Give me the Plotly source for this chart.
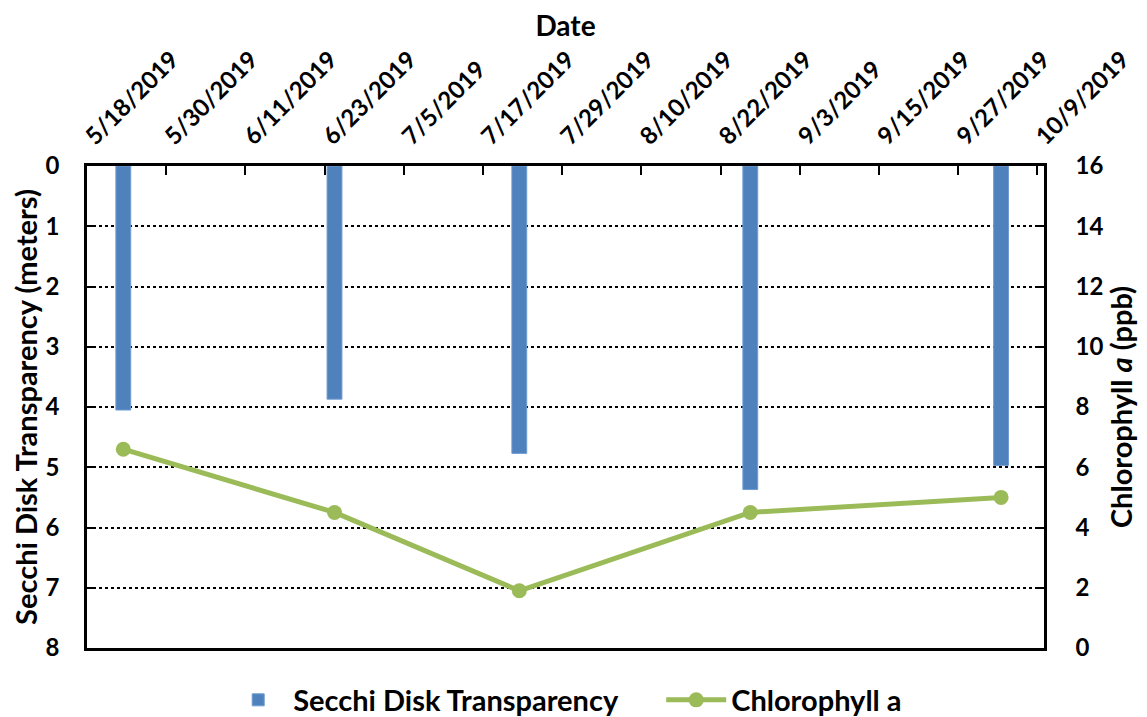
import plotly.graph_objects as go

dates = ["2019-05-23", "2019-06-24", "2019-07-22", "2019-08-26", "2019-10-03"]
secchi_m = [4.05, 3.87, 4.77, 5.37, 4.97]
chlorophyll_ppb = [6.6, 4.5, 1.9, 4.5, 5.0]

FONT = "Lato"
BLUE = "#4F81BD"
GREEN = "#9BBB59"
DAY_MS = 86400000

fig = go.Figure()
fig.add_trace(go.Bar(
    x=dates, y=secchi_m, name="Secchi Disk Transparency",
    marker=dict(color=BLUE, line=dict(color="#6f9bd0", width=1)),
    width=2.25 * DAY_MS, xperiod=DAY_MS, xperiodalignment="middle",
    yaxis="y",
))
fig.add_trace(go.Scatter(
    x=dates, y=chlorophyll_ppb, name="Chlorophyll a", mode="lines+markers",
    line=dict(color=GREEN, width=5), marker=dict(color=GREEN, size=15),
    xperiod=DAY_MS, xperiodalignment="middle",
    yaxis="y2",
))

# page body has an 8px margin, so the figure is shrunk by 8px to fit the window
fig.update_layout(
    width=1139, height=709,
    margin=dict(l=79, r=103, t=158, b=69, autoexpand=False),
    paper_bgcolor="white", plot_bgcolor="white",
    font=dict(family=FONT, size=21, color="black"),
    showlegend=True,
    legend=dict(orientation="h", x=0.6, xanchor="center",
                yref="container", y=0.024, yanchor="middle",
                font=dict(family=FONT, size=29, color="black", weight="bold"),
                itemwidth=60, traceorder="normal", entrywidth=363),
    xaxis=dict(
        type="date", range=["2019-05-18", "2019-10-10"], automargin=False,
        tick0="2019-05-18", dtick=12 * DAY_MS, tickformat="%-m/%-d/%Y",
        side="top", ticks="inside", ticklen=9, tickwidth=2, tickcolor="black",
        showline=True, linewidth=2.5, linecolor="black", mirror=True,
        showgrid=False, tickangle=-45, ticklabelstandoff=4,
        tickfont=dict(family=FONT, size=24, weight="bold"),
        title=dict(text="Date", font=dict(family=FONT, size=28, weight="bold"), standoff=13),
    ),
    yaxis=dict(
        range=[8, 0], dtick=1, tick0=0, automargin=False,
        ticks="inside", ticklen=9, tickwidth=2, tickcolor="black",
        showline=True, linewidth=2.5, linecolor="black",
        showgrid=True, gridcolor="black", gridwidth=1.5, griddash="dot",
        zeroline=False, ticklabelstandoff=20,
        tickfont=dict(family=FONT, size=24, weight="bold"),
        title=dict(text="Secchi Disk Transparency (meters)",
                   font=dict(family=FONT, size=29, weight="bold"), standoff=5),
    ),
    yaxis2=dict(
        range=[0, 16], dtick=2, tick0=0, overlaying="y", side="right", automargin=False,
        ticks="inside", ticklen=9, tickwidth=2, tickcolor="black",
        showline=True, linewidth=2.5, linecolor="black",
        showgrid=False, zeroline=False, ticklabelstandoff=24,
        tickfont=dict(family=FONT, size=24, weight="bold"),
        title=dict(text="Chlorophyll <i>a</i> (ppb)",
                   font=dict(family=FONT, size=29, weight="bold"), standoff=10),
    ),
)

fig.write_html("out.html")
